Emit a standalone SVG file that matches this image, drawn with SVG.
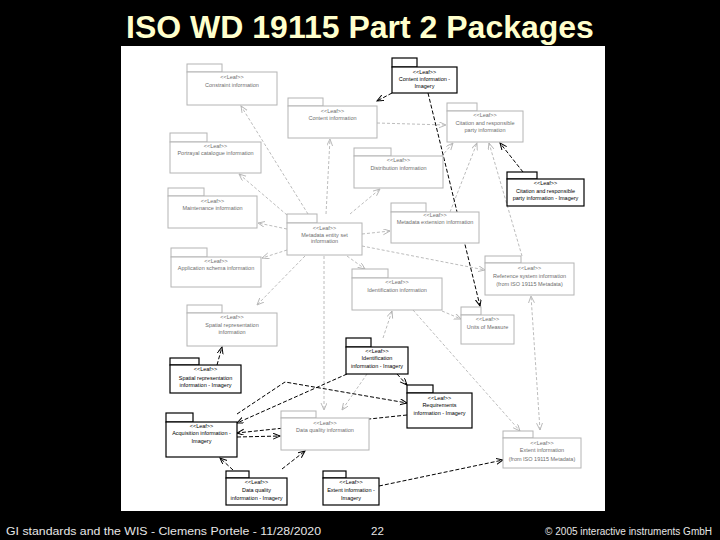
<svg xmlns="http://www.w3.org/2000/svg" width="720" height="540" viewBox="0 0 720 540">
<style>
.bg{fill:#000}
.panel{fill:#fff}
.g rect{fill:#fff;stroke:#b4b4b4;stroke-width:1}
.k rect{fill:#fff;stroke:#000;stroke-width:1.2}
.g text{fill:#6e6e6e}
.k text{fill:#000}
text.s{font-family:"Liberation Sans",Arial,sans-serif;font-size:5.5px;text-anchor:middle}
.cg{fill:none;stroke:#b4b4b4;stroke-width:0.9;stroke-dasharray:3,2;marker-end:url(#ag)}
.ck{fill:none;stroke:#000;stroke-width:1;stroke-dasharray:4,2;marker-end:url(#ak)}
.title{font-family:"Liberation Sans",Arial,sans-serif;font-weight:bold;font-size:32px;fill:#ffffcc;text-anchor:middle}
.foot{font-family:"Liberation Sans",Arial,sans-serif;font-size:11.5px;fill:#e6e6e6}
.foot2{font-family:"Liberation Sans",Arial,sans-serif;font-size:10px;fill:#e6e6e6;text-anchor:end}
</style>
<defs>
<marker id="ag" markerUnits="userSpaceOnUse" markerWidth="10" markerHeight="8" refX="7" refY="3" orient="auto-start-reverse"><path d="M0,0 L7,3 L0,6" fill="none" stroke="#b4b4b4" stroke-width="0.9"/></marker>
<marker id="ak" markerUnits="userSpaceOnUse" markerWidth="10" markerHeight="8" refX="7" refY="3" orient="auto-start-reverse"><path d="M0,0 L7,3 L0,6" fill="none" stroke="#000" stroke-width="1"/></marker>
</defs>
<rect class="bg" x="0" y="0" width="720" height="540"/>
<text class="title" x="360" y="38">ISO WD 19115 Part 2 Packages</text>
<rect class="panel" x="121" y="46" width="484" height="465"/>

<g id="connectors">
<path class="cg" d="M308,214 L241,106"/>
<path class="cg" d="M326,214 L330,139"/>
<path class="cg" d="M287,215 L239,174"/>
<path class="cg" d="M287,229 L258,223"/>
<path class="cg" d="M287,250 L262,258"/>
<path class="cg" d="M350,214 L380,189"/>
<path class="cg" d="M362,234 L390,231"/>
<path class="cg" d="M362,246 L485,270"/>
<path class="cg" d="M347,256 L365,269"/>
<path class="cg" d="M324,256 L324,410"/>
<path class="cg" d="M305,256 L257,305"/>
<path class="cg" d="M377,123 L446,125"/>
<path class="cg" d="M441,157 L453,143"/>
<path class="cg" d="M450,212 L477,143"/>
<path class="cg" d="M522,256 L489,143"/>
<path class="cg" d="M442,311 L461,319"/>
<path class="cg" d="M413,310 L520,431"/>
<path class="cg" d="M540,430 L531,296" marker-start="url(#ag)"/>
<path class="cg" d="M383,338 L392,311"/>
<path class="cg" d="M367,374 L342,410"/>
<path class="ck" d="M392,93 L377,101"/>
<path class="ck" d="M428,93 L480,306"/>
<path class="ck" d="M523,172 L500,143"/>
<path class="ck" d="M397,374 L407,385"/>
<path class="ck" d="M217,365 L222,347"/>
<path class="ck" d="M347,374 L237,423"/>
<path class="ck" d="M237,414 L285,382 L407,403"/>
<path class="ck" d="M407,415 L237,433"/>
<path class="ck" d="M237,437 L280,436"/>
<path class="ck" d="M233,470 L220,458"/>
<path class="ck" d="M282,469 L305,451"/>
<path class="ck" d="M379,486 L503,460"/>
</g>

<g id="constraint" class="g"><rect x="187" y="64" width="35" height="8"/><rect x="187" y="72" width="90" height="33"/>
<text class="s" x="232" y="79">&lt;&lt;Leaf&gt;&gt;</text><text class="s" x="232" y="87">Constraint information</text></g>

<g id="content-imagery" class="k"><rect x="392" y="58" width="25" height="9"/><rect x="392" y="67" width="65" height="26"/>
<text class="s" x="424.5" y="74">&lt;&lt;Leaf&gt;&gt;</text><text class="s" x="424.5" y="81">Content information -</text><text class="s" x="424.5" y="88">Imagery</text></g>

<g id="content" class="g"><rect x="288" y="98" width="35" height="8"/><rect x="288" y="106" width="89" height="32"/>
<text class="s" x="332.5" y="113">&lt;&lt;Leaf&gt;&gt;</text><text class="s" x="332.5" y="120">Content information</text></g>

<g id="citation" class="g"><rect x="447" y="103" width="30" height="8"/><rect x="447" y="111" width="76" height="31"/>
<text class="s" x="485" y="117">&lt;&lt;Leaf&gt;&gt;</text><text class="s" x="485" y="125">Citation and responsible</text><text class="s" x="485" y="132">party information</text></g>

<g id="portrayal" class="g"><rect x="170" y="133" width="37" height="9"/><rect x="170" y="142" width="91" height="31"/>
<text class="s" x="215.5" y="148">&lt;&lt;Leaf&gt;&gt;</text><text class="s" x="215.5" y="155">Portrayal catalogue information</text></g>

<g id="distribution" class="g"><rect x="354" y="148" width="37" height="8"/><rect x="354" y="156" width="89" height="32"/>
<text class="s" x="398.5" y="162">&lt;&lt;Leaf&gt;&gt;</text><text class="s" x="398.5" y="170">Distribution information</text></g>

<g id="citation-imagery" class="k"><rect x="507" y="172" width="30" height="7"/><rect x="507" y="179" width="77" height="27"/>
<text class="s" x="545.5" y="185">&lt;&lt;Leaf&gt;&gt;</text><text class="s" x="545.5" y="193">Citation and responsible</text><text class="s" x="545.5" y="200">party information - Imagery</text></g>

<g id="maintenance" class="g"><rect x="168" y="188" width="36" height="8"/><rect x="168" y="196" width="89" height="32"/>
<text class="s" x="212.5" y="203">&lt;&lt;Leaf&gt;&gt;</text><text class="s" x="212.5" y="210">Maintenance information</text></g>

<g id="metadata-entity" class="g"><rect x="287" y="214" width="30" height="9"/><rect x="287" y="223" width="75" height="32"/>
<text class="s" x="324.5" y="230">&lt;&lt;Leaf&gt;&gt;</text><text class="s" x="324.5" y="237">Metadata entity set</text><text class="s" x="324.5" y="243">information</text></g>

<g id="extension" class="g"><rect x="391" y="203" width="35" height="9"/><rect x="391" y="212" width="88" height="31"/>
<text class="s" x="435" y="217">&lt;&lt;Leaf&gt;&gt;</text><text class="s" x="435" y="224">Metadata extension information</text></g>

<g id="application" class="g"><rect x="171" y="248" width="36" height="9"/><rect x="171" y="257" width="90" height="30"/>
<text class="s" x="216" y="263">&lt;&lt;Leaf&gt;&gt;</text><text class="s" x="216" y="270">Application schema information</text></g>

<g id="reference" class="g"><rect x="485" y="256" width="36" height="7"/><rect x="485" y="263" width="89" height="32"/>
<text class="s" x="529.5" y="270">&lt;&lt;Leaf&gt;&gt;</text><text class="s" x="529.5" y="278">Reference system information</text><text class="s" x="529.5" y="286">(from ISO 19115 Metadata)</text></g>

<g id="identification" class="g"><rect x="352" y="269" width="36" height="9"/><rect x="352" y="278" width="90" height="32"/>
<text class="s" x="397" y="284">&lt;&lt;Leaf&gt;&gt;</text><text class="s" x="397" y="292">Identification information</text></g>

<g id="units" class="g"><rect x="461" y="307" width="20" height="8"/><rect x="461" y="315" width="53" height="29"/>
<text class="s" x="487.5" y="321">&lt;&lt;Leaf&gt;&gt;</text><text class="s" x="487.5" y="329">Units of Measure</text></g>

<g id="spatial" class="g"><rect x="187" y="305" width="35" height="8"/><rect x="187" y="313" width="90" height="33"/>
<text class="s" x="232" y="319">&lt;&lt;Leaf&gt;&gt;</text><text class="s" x="232" y="327">Spatial representation</text><text class="s" x="232" y="334">information</text></g>

<g id="identification-imagery" class="k"><rect x="346" y="338" width="25" height="9"/><rect x="346" y="347" width="62" height="27"/>
<text class="s" x="377" y="353">&lt;&lt;Leaf&gt;&gt;</text><text class="s" x="377" y="360">Identification</text><text class="s" x="377" y="368">information - Imagery</text></g>

<g id="spatial-imagery" class="k"><rect x="170" y="358" width="29" height="7"/><rect x="170" y="365" width="71" height="28"/>
<text class="s" x="205.5" y="371">&lt;&lt;Leaf&gt;&gt;</text><text class="s" x="205.5" y="380">Spatial representation</text><text class="s" x="205.5" y="387">information - Imagery</text></g>

<g id="requirements-imagery" class="k"><rect x="407" y="385" width="26" height="8"/><rect x="407" y="393" width="65" height="35"/>
<text class="s" x="439.5" y="400">&lt;&lt;Leaf&gt;&gt;</text><text class="s" x="439.5" y="407">Requirements</text><text class="s" x="439.5" y="415">information - Imagery</text></g>

<g id="acquisition-imagery" class="k"><rect x="166" y="413" width="27" height="9"/><rect x="166" y="422" width="71" height="35"/>
<text class="s" x="201.5" y="428">&lt;&lt;Leaf&gt;&gt;</text><text class="s" x="201.5" y="435">Acquisition information -</text><text class="s" x="201.5" y="443">Imagery</text></g>

<g id="data-quality" class="g"><rect x="281" y="411" width="35" height="7"/><rect x="281" y="418" width="88" height="32"/>
<text class="s" x="325" y="425">&lt;&lt;Leaf&gt;&gt;</text><text class="s" x="325" y="432">Data quality information</text></g>

<g id="extent" class="g"><rect x="503" y="431" width="30" height="7"/><rect x="503" y="438" width="78" height="30"/>
<text class="s" x="542" y="445">&lt;&lt;Leaf&gt;&gt;</text><text class="s" x="542" y="452">Extent information</text><text class="s" x="542" y="461">(from ISO 19115 Metadata)</text></g>

<g id="data-quality-imagery" class="k"><rect x="226" y="471" width="23" height="7"/><rect x="226" y="478" width="61" height="27"/>
<text class="s" x="256.5" y="484">&lt;&lt;Leaf&gt;&gt;</text><text class="s" x="256.5" y="492">Data quality</text><text class="s" x="256.5" y="500">information - Imagery</text></g>

<g id="extent-imagery" class="k"><rect x="323" y="471" width="23" height="7"/><rect x="323" y="478" width="56" height="27"/>
<text class="s" x="351" y="484">&lt;&lt;Leaf&gt;&gt;</text><text class="s" x="351" y="492">Extent information -</text><text class="s" x="351" y="500">Imagery</text></g>

<text class="foot" x="6" y="535" textLength="315" lengthAdjust="spacingAndGlyphs">GI standards and the WIS - Clemens Portele  -  11/28/2020</text>
<text class="foot" x="371" y="535">22</text>
<text class="foot2" x="712" y="535">© 2005 interactive instruments GmbH</text>
</svg>
